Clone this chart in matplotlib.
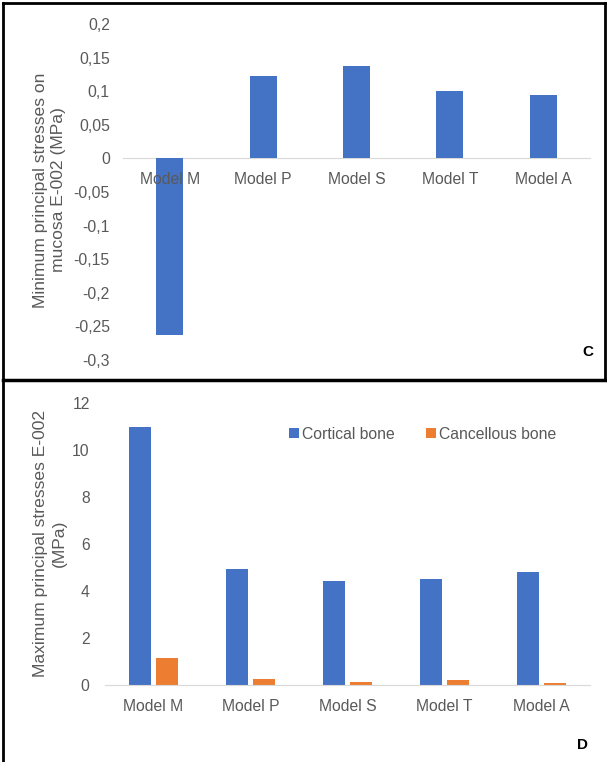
import matplotlib.pyplot as plt
import numpy as np
from matplotlib.lines import Line2D

plt.rcParams['font.family'] = ['Liberation Sans', 'DejaVu Sans']

models = ['Model M', 'Model P', 'Model S', 'Model T', 'Model A']
# panel C: minimum principal stresses on mucosa (E-002 MPa)
mucosa = [-0.263, 0.123, 0.137, 0.100, 0.094]
c_ticks = [-0.3, -0.25, -0.2, -0.15, -0.1, -0.05, 0, 0.05, 0.1, 0.15, 0.2]
c_ticklabels = ['-0,3', '-0,25', '-0,2', '-0,15', '-0,1', '-0,05', '0',
                '0,05', '0,1', '0,15', '0,2']
# panel D: maximum principal stresses (E-002 MPa)
cortical = [11.0, 4.92, 4.41, 4.52, 4.80]
cancellous = [1.17, 0.24, 0.12, 0.20, 0.08]

blue = '#4472C4'
orange = '#ED7D31'
txt = '#595959'

W, H = 607, 762
fig = plt.figure(figsize=(W / 100, H / 100), dpi=100)

def fx(px):
    return px / W

def fy(py):
    return 1 - py / H

x = np.arange(len(models))

# --- panel C
ax1 = fig.add_axes([fx(123), fy(360), fx(590) - fx(123), fy(24) - fy(360)])
ax1.bar(x, mucosa, width=0.29, color=blue, zorder=2)
ax1.set_axisbelow(False)
ax1.set_xlim(-0.5, 4.5)
ax1.set_ylim(-0.3, 0.2)
ax1.set_yticks(c_ticks)
ax1.set_yticklabels(c_ticklabels)
ax1.set_xticks(x)
ax1.set_xticklabels(models)
for s in ['top', 'right', 'left']:
    ax1.spines[s].set_visible(False)
ax1.spines['bottom'].set_position(('data', 0))
ax1.spines['bottom'].set_color('#d9d9d9')
ax1.spines['bottom'].set_zorder(1)
ax1.tick_params(length=0, labelsize=11.3, labelcolor=txt)
ax1.tick_params(axis='x', pad=10)
ax1.tick_params(axis='y', pad=9.5)
ax1.patch.set_alpha(0)
fig.text(fx(50), fy(190), 'Minimum principal stresses on\nmucosa E-002 (MPa)',
         rotation=90, ha='center', va='center', fontsize=12.6, color=txt,
         linespacing=1.25)
fig.text(fx(588), fy(352), 'C', ha='center', va='center', fontsize=11,
         fontweight='bold', color='black')

# --- panel D
ax2 = fig.add_axes([fx(105), fy(685), fx(590) - fx(105), fy(403) - fy(685)])
w = 0.22
ax2.bar(x - 0.14, cortical, width=w, color=blue, label='Cortical bone', zorder=2)
ax2.bar(x + 0.14, cancellous, width=w, color=orange, label='Cancellous bone', zorder=2)
ax2.set_xlim(-0.5, 4.5)
ax2.set_ylim(0, 12)
ax2.set_yticks(range(0, 13, 2))
ax2.set_xticks(x)
ax2.set_xticklabels(models)
for s in ['top', 'right', 'left']:
    ax2.spines[s].set_visible(False)
ax2.spines['bottom'].set_color('#d9d9d9')
ax2.tick_params(length=0, labelsize=11.3, labelcolor=txt)
ax2.tick_params(axis='x', pad=10)
ax2.tick_params(axis='y', pad=11)
ax2.legend(loc='center', bbox_to_anchor=(0.655, 0.89), ncol=2, frameon=False,
           handlelength=0.6, handleheight=0.6, handletextpad=0.2,
           columnspacing=2.0, fontsize=11.3, labelcolor=txt)
fig.text(fx(50), fy(543), 'Maximum principal stresses E-002\n(MPa)',
         rotation=90, ha='center', va='center', fontsize=12.6, color=txt,
         linespacing=1.25)
fig.text(fx(583), fy(745), 'D', ha='center', va='center', fontsize=11,
         fontweight='bold', color='black')

# frames
for (x0, y0, x1, y1, lw) in [(3, 3, 605, 3, 2), (3, 3, 3, 762, 2), (605, 3, 605, 380, 2),
                              (3, 380, 605, 380, 2.5)]:
    fig.add_artist(Line2D([fx(x0), fx(x1)], [fy(y0), fy(y1)], color='black', lw=lw))

fig.savefig('out.png', dpi=100)
